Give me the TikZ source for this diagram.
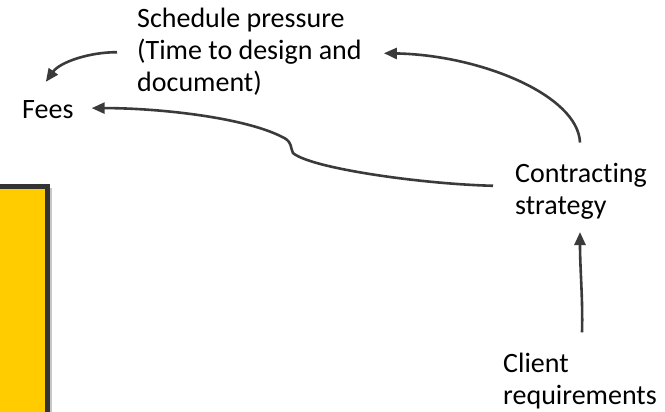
\documentclass[tikz,border=0pt]{standalone}
\usepackage{fontspec}
\setmainfont{Carlito}[Ligatures={NoCommon}]
\usetikzlibrary{arrows.meta,calc}
\definecolor{linegray}{HTML}{3A3A3A}
\definecolor{boxyellow}{HTML}{FFCC00}
\definecolor{boxedge}{HTML}{333333}
\tikzset{
  label text/.style={anchor=base west, inner sep=0pt, align=left,
    font=\fontsize{28}{32}\selectfont},
  link/.style={draw=linegray, line width=2.6pt,
    -{Triangle[length=13pt,width=11pt]}, fill=none},
}
\begin{document}
\begin{tikzpicture}[x=1pt,y=-1pt]
\useasboundingbox (0,0) rectangle (665,412);
% yellow panel cut off at the left and bottom edges
\fill[gray!45] (-10,188) rectangle (51.5,430);
\filldraw[fill=boxyellow, draw=boxedge, line width=5pt] (-10,186.5) rectangle (47.5,430);

% labels (anchored at the baseline of their last line)
\node[label text] (sched) at (137,92) {Schedule pressure\\(Time to design and\\document)};
\node[label text] (fees) at (22,118) {Fees};
\node[label text] (contract) at (515,214) {Contracting\\strategy};
\node[label text] (client) at (503,404) {Client\\requirements};

% connectors
\draw[link] ([xshift=-20pt]sched.west) .. controls (90,52) and (60,62) .. ([xshift=-2pt,yshift=18pt]fees.north);
\draw[link] ([xshift=65pt,yshift=20pt]contract.north west) .. controls (578,95) and (480,55) .. ([xshift=22pt,yshift=-1pt]sched.east);
\draw[link] ([xshift=-22pt,yshift=5pt]contract.west) .. controls (420,184) and (310,168) .. (293,153)
  .. controls (290,146) and (292,144) .. (286,139)
  .. controls (250,118) and (160,108) .. ([xshift=18pt,yshift=1pt]fees.east);
\draw[link] ([xshift=79pt,yshift=20pt]client.north west) .. controls (583,300) and (580,270) .. ([xshift=65pt,yshift=-13pt]contract.south west);
\end{tikzpicture}
\end{document}
